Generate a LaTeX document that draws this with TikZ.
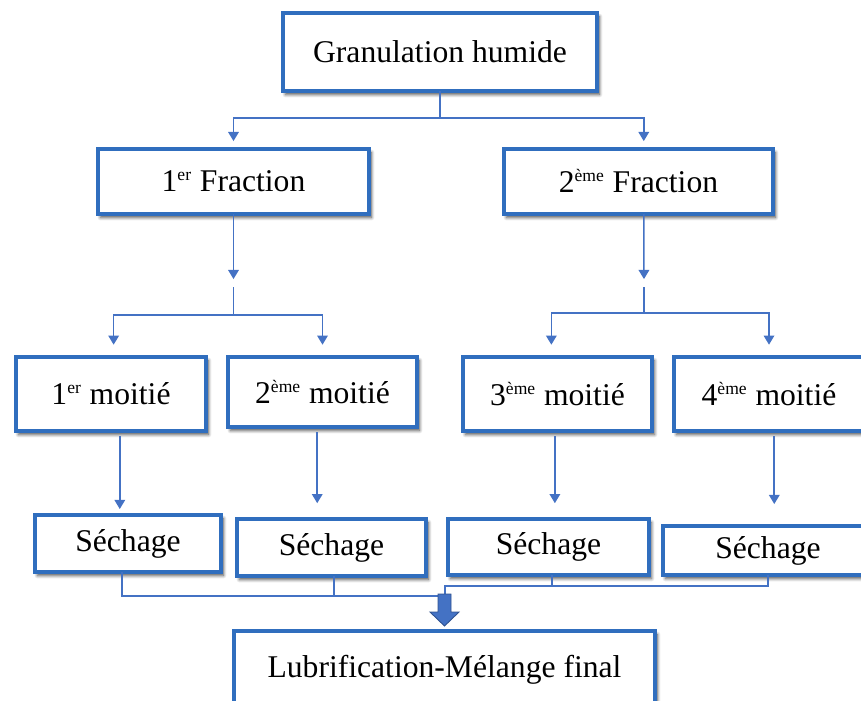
\documentclass[tikz,border=0pt]{standalone}
\usepackage{fontspec}
\setmainfont{Liberation Serif}
\usetikzlibrary{arrows.meta,shadows.blur}
\newcommand{\expo}[1]{\textsuperscript{\fontsize{10}{10}\selectfont #1}}
\begin{document}
\begin{tikzpicture}[x={(0.02cm,0cm)},y={(0cm,-0.02cm)},every node/.style={font=\fontsize{18}{22}\selectfont, inner sep=0pt, outer sep=0pt},
  box/.style={draw={rgb,255:red,48;green,110;blue,190}, line width=2.2pt, fill=white, blur shadow={shadow xshift=1.4pt, shadow yshift=-2pt, shadow blur steps=6, shadow opacity=70}},
  link/.style={draw={rgb,255:red,68;green,114;blue,196}, line width=0.9pt},
  tip/.style={link, -{Triangle[width=6pt,length=5.2pt]}, shorten >=4.5pt}]
\useasboundingbox (0,0) rectangle (861,700);
\clip (0,0) rectangle (861,700);
\node[box, minimum width=6.28cm, minimum height=1.56cm] (gran) at (440,52) {Granulation humide};
\node[box, minimum width=5.42cm, minimum height=1.3cm] (frac1) at (233.5,181.5) {1\expo{er} Fraction};
\node[box, minimum width=5.38cm, minimum height=1.3cm] (frac2) at (638.5,181.5) {2\expo{ème} Fraction};
\node[box, minimum width=3.8cm, minimum height=1.48cm] (moit1) at (111,394) {1\expo{er} moitié};
\node[box, minimum width=3.78cm, minimum height=1.4cm] (moit2) at (322.5,392) {2\expo{ème} moitié};
\node[box, minimum width=3.78cm, minimum height=1.48cm] (moit3) at (557.5,394) {3\expo{ème} moitié};
\node[box, minimum width=3.8cm, minimum height=1.48cm] (moit4) at (769,394) {4\expo{ème} moitié};
\node[box, minimum width=3.72cm, minimum height=1.14cm] (sech1) at (128,543.5) {Séchage};
\node[box, minimum width=3.78cm, minimum height=1.14cm] (sech2) at (331.5,547.5) {Séchage};
\node[box, minimum width=4.02cm, minimum height=1.12cm] (sech3) at (548.5,547) {Séchage};
\node[box, minimum width=4.2cm, minimum height=0.98cm] (sech4) at (768,550.5) {Séchage};
\node[box, minimum width=8.42cm, minimum height=1.56cm] (lubr) at (444.5,670) {Lubrification-Mélange final};
% granulation -> fractions
\coordinate (g1) at (440,118);
\draw[tip] (gran.south) -- (g1) -| (frac1);
\draw[tip] (g1) -| ([xshift=3pt]frac2.north);
% fractions -> moities
\coordinate (f1) at (233.5,287);
\coordinate (f1j) at (233.5,315);
\draw[tip] (frac1.south) -- (f1);
\draw[tip, shorten >=7pt] (f1) -- (f1j) -| ([xshift=1.5pt]moit1.north);
\draw[tip, shorten >=7pt] (f1j) -| (moit2);
\coordinate (f2) at (644,287);
\coordinate (f2j) at (644,313);
\draw[tip] ([xshift=3pt]frac2.south) -- (f2);
\draw[tip, shorten >=7pt] (f2) -- (f2j) -| ([xshift=-3.5pt]moit3.north);
\draw[tip, shorten >=7pt] (f2j) -| (moit4);
% moities -> sechage
\draw[tip, shorten <=3pt, shorten >=3.4pt] ([xshift=5pt]moit1.south) -- ([xshift=5pt]moit1.south |- sech1.north);
\draw[tip, shorten <=3pt, shorten >=9pt] ([xshift=-3pt]moit2.south) -- ([xshift=-3pt]moit2.south |- sech2.north);
\draw[tip, shorten <=3pt, shorten >=9pt] ([xshift=-1.5pt]moit3.south) -- ([xshift=-1.5pt]moit3.south |- sech3.north);
\draw[tip, shorten <=3pt, shorten >=12.5pt] ([xshift=3pt]moit4.south) -- ([xshift=3pt]moit4.south |- sech4.north);
% sechage -> lubrification
\coordinate (bl) at (445,596);
\coordinate (br) at (445,586);
\draw[link] ([xshift=-3.4pt]sech1.south) |- (bl);
\draw[link] ([xshift=1.5pt]sech2.south) -- ([xshift=1.5pt]sech2.south |- bl);
\draw[link] ([xshift=2pt]sech3.south) -- ([xshift=2pt]sech3.south |- br);
\draw[link] (sech4.south) |- (br) -- (bl);
\coordinate (blk) at (444.5,594);
\draw[draw={rgb,255:red,47;green,82;blue,143}, fill={rgb,255:red,68;green,114;blue,196}, line width=0.5pt] ([xshift=-3.7pt]blk) -- ++(13,0) -- ++(0,18) -- ++(8,0) -- ++(-14.5,14) -- ++(-14.5,-14) -- ++(8,0) -- cycle;
\end{tikzpicture}
\end{document}
